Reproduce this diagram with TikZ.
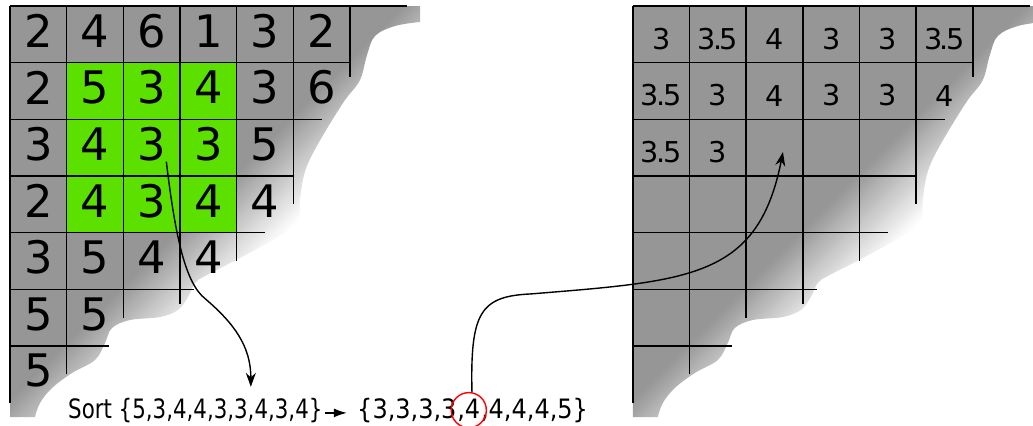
\documentclass[tikz,border=0pt]{standalone}
\usepackage{fontspec}
\setmainfont{DejaVu Sans}
\newfontfamily\sortfont[FakeStretch=0.8]{DejaVu Sans}
\newfontfamily\listfont[FakeStretch=0.9]{DejaVu Sans}
\usetikzlibrary{arrows.meta,positioning}
\definecolor{cellgray}{RGB}{150,150,150}
\definecolor{cellgreen}{RGB}{92,224,0}
\pgfdeclarehorizontalshading{stairfade}{100bp}{color(0bp)=(cellgray); color(48.5bp)=(cellgray); color(58bp)=(white); color(100bp)=(white)}
\newcommand{\thf}{3\kern-.09em.\kern-.09em5}
\newcommand{\stairgrid}{%
  \shade[shading=stairfade,shading angle=-45] (0,0) -- (7.235,0)
    -- plot[smooth,tension=.6] coordinates {(7.235,-.282) (6.794,-.353) (6.441,-.529) (6.3,-.865)
      (6.176,-1.306) (5.912,-1.659) (5.611,-2.135) (5.329,-2.629) (5.188,-2.982) (5.117,-3.423)
      (5.082,-3.812) (4.764,-4.059) (4.059,-4.447) (3.441,-4.765) (3.264,-4.888) (3.141,-5.135)
      (2.965,-5.364) (2.647,-5.488) (2.118,-5.541) (1.8,-5.682) (1.676,-5.947) (1.5,-6.247)
      (1.094,-6.476) (.741,-6.741) (.529,-7.006) (.441,-7.253)}
    -- (0,-7.253) -- cycle;
}
\newcommand{\stairlines}{%
  \foreach \r/\len in {0/7,1/6,2/5.5,3/5,4/4.5,5/3.25,6/1.75}
    \draw[gridline] (0,-\r) -- (\len,-\r);
  \foreach \c/\len in {0/7,1/6.5,2/5.5,3/5.25,4/4.5,5/3.5,6/1.25}
    \draw[gridline] (\c,0) -- (\c,-\len);
}
\begin{document}
\begin{tikzpicture}[
    gridline/.style={line width=0.7pt},
    bigdigit/.style={inner sep=0pt,font=\fontsize{22.5}{27}\selectfont,yshift=0.06cm},
    smalldigit/.style={inner sep=0pt,font=\fontsize{14.4}{17}\selectfont,yshift=-0.08cm},
    sorttext/.style={inner sep=0pt,font=\sortfont\fontsize{13.4}{16}\selectfont},
    listtext/.style={inner sep=0pt,font=\listfont\fontsize{13.4}{16}\selectfont},
    flow/.style={line width=0.7pt,-{Stealth[length=7pt,width=5pt]}}]
  \useasboundingbox (-0.1765,0.1059) rectangle (18.052,-7.394);

  % input values
  \stairgrid
  \fill[cellgreen] (1,-1) rectangle (4,-4);
  \stairlines
  \foreach \row [count=\r from 0] in {{2,4,6,1,3,2},{2,5,3,4,3,6},{3,4,3,3,5},{2,4,3,4,4},{3,5,4,4},{5,5},{5}}
    \foreach \v [count=\c from 0] in \row
      \node[bigdigit] (l-\r-\c) at (\c+.5,-\r-.5) {\v};

  % filtered values
  \begin{scope}[xshift=10.99cm]
    \stairgrid
    \stairlines
    \foreach \row [count=\r from 0] in {{3,\thf,4,3,3,\thf},{\thf,3,4,3,3,4},{\thf,3}}
      \foreach \v [count=\c from 0] in \row
        \node[smalldigit] (r-\r-\c) at (\c+.5,-\r-.5) {\v};
  \end{scope}

  \node[sorttext,anchor=base west] (sortin) at (1.02,-7.276) {Sort \{5,3,4,4,3,3,4,3,4\}};
  \node[listtext,anchor=base west] (outa) at (6.12,-7.276) {\{3,3,3,3};
  \node[listtext,base right=0pt of outa] (four) {,4};
  \node[listtext,base right=0pt of four] (outb) {,4,4,4,5\}};
  \node[draw=red,line width=0.7pt,circle,minimum size=0.62cm,inner sep=0pt] (pick) at (four.center) {};
  \draw[line width=0.7pt,-{Latex[length=6.5pt,width=4.5pt]},shorten <=1pt,shorten >=5pt] (sortin.mid east) -- (outa.mid west);

  \coordinate (drop) at (4.25,-6.72);
  \coordinate (slot) at (13.64,-2.576);
  \draw[flow] (l-2-2.south east) .. controls (2.92,-4.1) and (3.1,-4.9) .. (3.45,-5.17)
    .. controls (3.95,-5.6) and (4.25,-6.0) .. (drop);
  \draw[flow] (pick.80) .. controls (8.12,-5.4) and (8.3,-5.12) .. (9.2,-5.08)
    .. controls (12.0,-4.85) and (13.2,-4.8) .. (slot);
\end{tikzpicture}
\end{document}
